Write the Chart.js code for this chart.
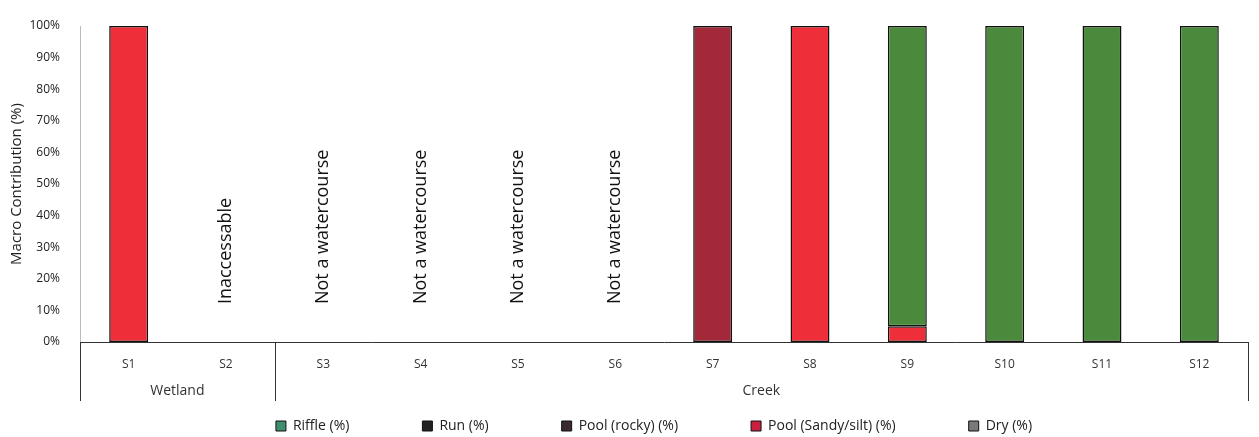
<!DOCTYPE html>
<html>
<head>
<meta charset="utf-8">
<script src="https://cdn.jsdelivr.net/npm/chart.js@4/dist/chart.umd.min.js"></script>
<style>
  html, body { margin: 0; padding: 0; background: #fff; }
  #wrap { width: 1259px; height: 437px; }
</style>
</head>
<body>
<div id="wrap"><canvas id="chart" width="1259" height="437"></canvas></div>
<script>
// sites + groups
const sites = ['S1', 'S2', 'S3', 'S4', 'S5', 'S6', 'S7', 'S8', 'S9', 'S10', 'S11', 'S12'];
const groups = [
  { name: 'Wetland', from: 0, to: 1 },
  { name: 'Creek', from: 2, to: 11 },
];

// macro contribution per site (%)
const riffle     = [0, 0, 0, 0, 0, 0, 0, 0, 95, 100, 100, 100];
const run        = [0, 0, 0, 0, 0, 0, 0, 0, 0, 0, 0, 0];
const poolRocky  = [0, 0, 0, 0, 0, 0, 100, 0, 0, 0, 0, 0];
const poolSandy  = [100, 0, 0, 0, 0, 0, 0, 100, 5, 0, 0, 0];
const dry        = [0, 0, 0, 0, 0, 0, 0, 0, 0, 0, 0, 0];

// notes written over empty sites
const notes = [
  { site: 'S2', text: 'Inaccessable' },
  { site: 'S3', text: 'Not a watercourse' },
  { site: 'S4', text: 'Not a watercourse' },
  { site: 'S5', text: 'Not a watercourse' },
  { site: 'S6', text: 'Not a watercourse' },
];

const yTicks = [0, 10, 20, 30, 40, 50, 60, 70, 80, 90, 100];

const FONT = "'Open Sans', sans-serif";

const legendSwatch = {
  'Riffle (%)': '#3f8f6e',
  'Run (%)': '#222222',
  'Pool (rocky) (%)': '#3a2a2e',
  'Pool (Sandy/silt) (%)': '#c8203e',
  'Dry (%)': '#7a7a7a',
};

const ds = (label, data, color) => ({
  label,
  data: data.map(v => v || null), // skip empty segments so no outline is drawn
  backgroundColor: color,
  borderColor: '#111',
  borderWidth: 1.5,
  borderSkipped: false,
  categoryPercentage: 0.8,
  barPercentage: 0.5,
});

// group labels, separators and rotated notes
const extras = {
  id: 'extras',
  afterLayout(chart) {
    // legend sits a bit right of centre in the original
    chart.legend.left += 60;
  },
  afterDraw(chart) {
    const { ctx, chartArea } = chart;
    const x = chart.scales.x, y = chart.scales.y;
    const step = x.getPixelForValue(1) - x.getPixelForValue(0);
    const base = chartArea.bottom;

    ctx.save();
    ctx.strokeStyle = '#333';
    ctx.lineWidth = 1;
    const edges = [x.getPixelForValue(0) - step / 2];
    groups.forEach(g => edges.push(x.getPixelForValue(g.to) + step / 2));
    edges.forEach(px => {
      ctx.beginPath();
      ctx.moveTo(Math.round(px) + 0.5, base);
      ctx.lineTo(Math.round(px) + 0.5, base + 59);
      ctx.stroke();
    });

    ctx.fillStyle = '#333';
    ctx.font = '14px ' + FONT;
    ctx.textAlign = 'center';
    ctx.textBaseline = 'middle';
    groups.forEach(g => {
      const cx = (x.getPixelForValue(g.from) + x.getPixelForValue(g.to)) / 2;
      ctx.fillText(g.name, cx, base + 49);
    });

    ctx.font = '18px ' + FONT;
    ctx.fillStyle = '#111';
    ctx.textAlign = 'left';
    notes.forEach(n => {
      const px = x.getPixelForValue(sites.indexOf(n.site));
      ctx.save();
      ctx.translate(px, y.getPixelForValue(12));
      ctx.rotate(-Math.PI / 2);
      ctx.fillText(n.text, 0, 0);
      ctx.restore();
    });
    ctx.restore();
  }
};

const spacer = '\u2003\u2003\u2003\u2003\u2002';

new Chart(document.getElementById('chart'), {
  type: 'bar',
  data: {
    labels: sites,
    datasets: [
      ds('Riffle (%)', riffle, '#4b8a3c'),
      ds('Run (%)', run, '#222222'),
      ds('Pool (rocky) (%)', poolRocky, '#a3283a'),
      ds('Pool (Sandy/silt) (%)', poolSandy, '#ee2e38'),
      ds('Dry (%)', dry, '#7a7a7a'),
    ].reverse(),
  },
  options: {
    responsive: false,
    animation: false,
    layout: { padding: { top: 26, right: 11, left: 0, bottom: -6 } },
    plugins: {
      tooltip: { enabled: false },
      legend: {
        position: 'bottom',
        labels: {
          font: { family: FONT, size: 14 },
          color: '#222',
          boxWidth: 10,
          boxHeight: 10,
          padding: 10,
          generateLabels(chart) {
            const list = chart.data.datasets.map((d, i) => ({
              text: d.label + (d.label === 'Dry (%)' ? '' : spacer),
              fillStyle: legendSwatch[d.label],
              strokeStyle: '#111',
              lineWidth: 1,
              datasetIndex: i,
              fontColor: '#222',
            }));
            return list.reverse();
          },
        },
      },
    },
    scales: {
      x: {
        stacked: true,
        grid: { display: false },
        border: { color: '#333', width: 1 },
        ticks: { font: { family: FONT, size: 12 }, color: '#333', padding: 7 },
        afterFit(s) { s.height = 67; },
      },
      y: {
        stacked: true,
        min: 0,
        max: 100,
        grid: { display: false },
        border: { color: '#bbb', width: 1 },
        afterBuildTicks(s) { s.ticks = yTicks.map(v => ({ value: v })); },
        ticks: {
          font: { family: FONT, size: 12 },
          color: '#222',
          padding: 12,
          callback: v => v + '%',
        },
        title: {
          display: true,
          text: 'Macro Contribution (%)',
          font: { family: FONT, size: 15 },
          color: '#222',
          padding: { top: 8, bottom: 0 },
        },
        afterFit(s) { s.width = 80; },
      },
    },
  },
  plugins: [extras],
});
</script>
</body>
</html>
